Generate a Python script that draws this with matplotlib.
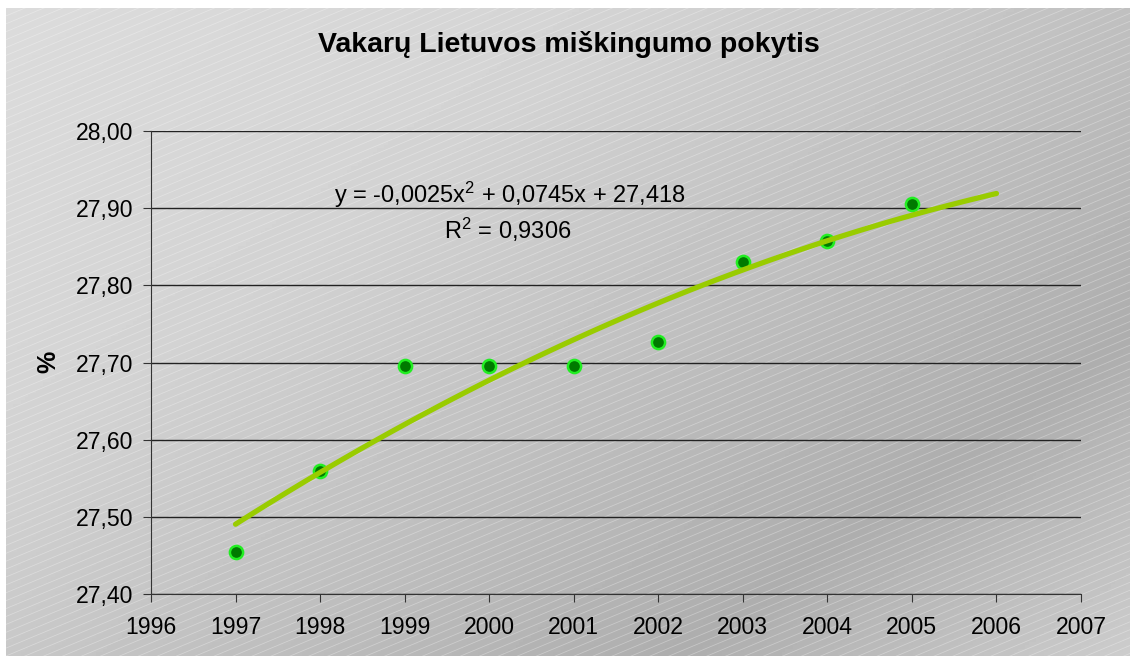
import matplotlib
matplotlib.use("Agg")
import matplotlib.pyplot as plt
import numpy as np
from matplotlib.ticker import FuncFormatter, MultipleLocator

plt.rcParams['font.family'] = ['Liberation Sans', 'DejaVu Sans']
plt.rcParams['mathtext.fontset'] = 'custom'
plt.rcParams['mathtext.rm'] = 'Liberation Sans'
plt.rcParams['mathtext.default'] = 'regular'

# data
years = [1997, 1998, 1999, 2000, 2001, 2002, 2003, 2004, 2005]
forest = [27.455, 27.559, 27.695, 27.695, 27.695, 27.727, 27.830, 27.858, 27.906]

title = "Vakarų Lietuvos miškingumo pokytis"
ylabel = "%"
eq_text = "y = -0,0025x$^2$ + 0,0745x + 27,418"
r2_text = "R$^2$ = 0,9306"

W, H = 1130, 656
fig = plt.figure(figsize=(W / 100, H / 100), dpi=100)
fig.patch.set_facecolor("white")

# background: grey diagonal gradient with faint white stripes
bg = fig.add_axes([6 / W, 0, 1 - 6 / W, 1 - 8 / H])
bg.set_xlim(0, W)
bg.set_ylim(H, 0)
gx, gy = np.meshgrid(np.linspace(0, 1, 300), np.linspace(0, 1, 180))
u = 0.55 * gx + 0.45 * gy
shade = np.interp(u, [0, 0.3, 0.78, 1.0], [0.86, 0.83, 0.68, 0.80])
bg.imshow(shade, cmap="gray", vmin=0, vmax=1, extent=[0, W, H, 0], aspect="auto")
slope = 0.42
for c in np.arange(-slope * W, H + 10, 8):
    xs = np.array([0, W])
    bg.plot(xs, c + slope * W - slope * xs, color="white", lw=0.6, alpha=0.3)
bg.axis("off")

ax = fig.add_axes([151 / W, 1 - 594 / H, 930 / W, 463 / H])
ax.patch.set_alpha(0)

ax.plot(years, forest, "o", color="#007a00", markeredgecolor="#22ee22",
        markersize=9.5, markeredgewidth=1.8, zorder=3, clip_on=False)

# second order polynomial trend, one period forecast
coef = np.polyfit(years, forest, 2)
tx = np.linspace(years[0], years[-1] + 1, 100)
ax.plot(tx, np.polyval(coef, tx), color="#99cc00", lw=3.8,
        solid_capstyle="round", zorder=4)

ax.set_xlim(1996, 2007)
ax.set_ylim(27.40, 28.00)
ax.xaxis.set_major_locator(MultipleLocator(1))
ax.yaxis.set_major_locator(MultipleLocator(0.1))
ax.yaxis.set_major_formatter(FuncFormatter(lambda v, p: f"{v:.2f}".replace(".", ",")))
ax.grid(axis="y", color="#222222", lw=1)
ax.set_axisbelow(True)
for s in ["top", "right"]:
    ax.spines[s].set_visible(False)
for s in ["left", "bottom"]:
    ax.spines[s].set_color("#333333")
ax.tick_params(axis="both", labelsize=16.6, length=6, color="#333333")
ax.tick_params(axis="y", pad=7)
ax.tick_params(axis="x", pad=10)

ax.text(0.386, 0.862, eq_text, transform=ax.transAxes, ha="center",
        va="center", fontsize=17)
ax.text(0.384, 0.786, r2_text, transform=ax.transAxes, ha="center",
        va="center", fontsize=17)

fig.text(0.503, 1 - 45 / H, title, ha="center", va="center",
         fontsize=20.5, fontweight="bold")
fig.text(48 / W, 1 - 362 / H, ylabel, ha="center", va="center",
         rotation=90, fontsize=18, fontweight="bold")

fig.savefig("out.png", dpi=100)
